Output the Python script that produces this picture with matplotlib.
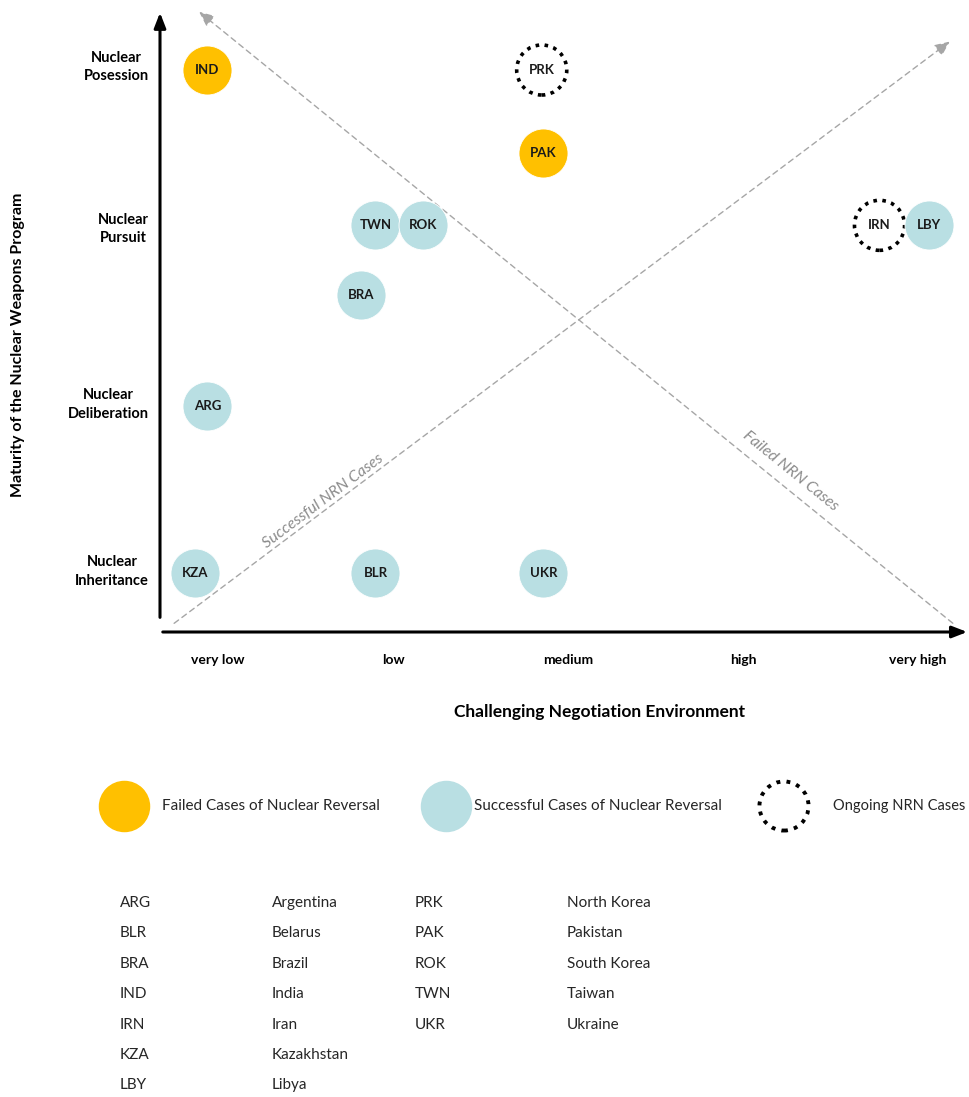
import matplotlib
matplotlib.use('Agg')
import matplotlib.pyplot as plt

# case positions: x = negotiation environment, y = maturity of the programme
codes = ['IND', 'PRK', 'PAK', 'TWN', 'ROK', 'IRN', 'LBY', 'BRA', 'ARG', 'KZA', 'BLR', 'UKR']
environment = [-0.06, 1.85, 1.86, 0.90, 1.17, 3.78, 4.06, 0.82, -0.06, -0.13, 0.90, 1.86]
maturity = [3.0, 3.0, 2.5, 2.07, 2.07, 2.07, 2.07, 1.65, 0.99, -0.01, -0.01, -0.01]
outcome = ['failed', 'ongoing', 'failed', 'success', 'success', 'ongoing', 'success',
           'success', 'success', 'success', 'success', 'success']

x_labels = ['very low', 'low', 'medium', 'high', 'very high']
y_ticks = [0.02, 1.02, 2.07, 3.04]
y_labels = ['Nuclear\nInheritance', 'Nuclear\nDeliberation', 'Nuclear\nPursuit', 'Nuclear\nPosession']

legend_labels = ['Failed Cases of Nuclear Reversal', 'Successful Cases of Nuclear Reversal', 'Ongoing NRN Cases']

abbr_left = ['ARG', 'BLR', 'BRA', 'IND', 'IRN', 'KZA', 'LBY']
names_left = ['Argentina', 'Belarus', 'Brazil', 'India', 'Iran', 'Kazakhstan', 'Libya']
abbr_right = ['PRK', 'PAK', 'ROK', 'TWN', 'UKR']
names_right = ['North Korea', 'Pakistan', 'South Korea', 'Taiwan', 'Ukraine']

orange = '#FFC000'
blue = '#B9DFE3'
grey = '#A6A6A6'

plt.rcParams['font.family'] = ['Lato', 'DejaVu Sans']

W, H = 970, 1097
fig = plt.figure(figsize=(W / 100, H / 100), dpi=100)

ax = fig.add_axes([160 / W, (H - 632) / H, 810 / W, 624 / H])
ax.set_xlim(-0.331, 4.297)
ax.set_ylim(-0.365, 3.371)
for s in ax.spines.values():
    s.set_visible(False)

# axes arrows
ax.annotate('', xy=(1, 0), xytext=(0, 0), xycoords='axes fraction',
            arrowprops=dict(arrowstyle='-|>,head_length=0.9,head_width=0.35', color='black', lw=2.2))
ax.annotate('', xy=(0, 0.997), xytext=(0, 0.019), xycoords='axes fraction',
            arrowprops=dict(arrowstyle='-|>,head_length=0.9,head_width=0.35', color='black', lw=2.2))

# diagonal trend arrows
ax.annotate('', xy=(4.194, 3.18), xytext=(-0.263, -0.323),
            arrowprops=dict(arrowstyle='-|>,head_length=0.9,head_width=0.4', color=grey, lw=1.0,
                            linestyle=(0, (4, 3))))
ax.annotate('', xy=(-0.12, 3.359), xytext=(4.211, -0.323),
            arrowprops=dict(arrowstyle='-|>,head_length=0.9,head_width=0.4', color=grey, lw=1.0,
                            linestyle=(0, (4, 3))))
ax.text(0.60, 0.42, 'Successful NRN Cases', rotation=36.9, rotation_mode='anchor',
        ha='center', va='center', style='italic', color='#8C8C8C', fontsize=11.5)
ax.text(3.27, 0.60, 'Failed NRN Cases', rotation=-39, rotation_mode='anchor',
        ha='center', va='center', style='italic', color='#8C8C8C', fontsize=11.5)

# cases
for c, x, y, o in zip(codes, environment, maturity, outcome):
    if o == 'ongoing':
        ax.scatter(x, y, s=1300, facecolor='white', edgecolor='black', linewidths=2.6,
                   linestyle=(0, (1, 1.5)), zorder=3)
    else:
        ax.scatter(x, y, s=1245, color=orange if o == 'failed' else blue,
                   edgecolor='white', linewidths=0.6, zorder=4)
    ax.text(x, y, c, ha='center', va='center', fontsize=9.5, fontweight='bold', zorder=5,
            color='#1A1A1A')

ax.set_xticks(range(len(x_labels)))
ax.set_xticklabels(x_labels, fontsize=10, fontweight='bold')
ax.set_yticks(y_ticks)
ax.set_yticklabels(y_labels, fontsize=10.5, fontweight='bold', multialignment='center', linespacing=1.4)
ax.tick_params(axis='x', length=0, pad=16)
ax.tick_params(axis='y', length=0, pad=8)

fig.text(600 / W, 1 - 712 / H, 'Challenging Negotiation Environment', ha='center', va='center',
         fontsize=12.5, fontweight='bold')
fig.text(18 / W, 1 - 345 / H, 'Maturity of the Nuclear Weapons Program', ha='center', va='center',
         rotation=90, fontsize=11.5, fontweight='bold')

# legend and abbreviation table on a pixel-space overlay
lg = fig.add_axes([0, 0, 1, 1])
lg.set_xlim(0, W)
lg.set_ylim(H, 0)
lg.axis('off')

lg.scatter(124, 806, s=1300, color=orange)
lg.scatter(446, 806, s=1300, color=blue)
lg.scatter(784, 806, s=1250, facecolor='none', edgecolor='black', linewidths=2.8, linestyle=(0, (1, 1.6)))
for tx, lab in zip([162, 474, 833], legend_labels):
    lg.text(tx, 806, lab, ha='left', va='center', fontsize=10.5 if tx > 800 else 11, color='#262626')

for i, (a, n) in enumerate(zip(abbr_left, names_left)):
    lg.text(120, 903 + 30.4 * i, a, ha='left', va='center', fontsize=11, color='#262626')
    lg.text(272, 903 + 30.4 * i, n, ha='left', va='center', fontsize=11, color='#262626')
for i, (a, n) in enumerate(zip(abbr_right, names_right)):
    lg.text(415, 903 + 30.4 * i, a, ha='left', va='center', fontsize=11, color='#262626')
    lg.text(567, 903 + 30.4 * i, n, ha='left', va='center', fontsize=11, color='#262626')

fig.savefig('out.png', dpi=100)
